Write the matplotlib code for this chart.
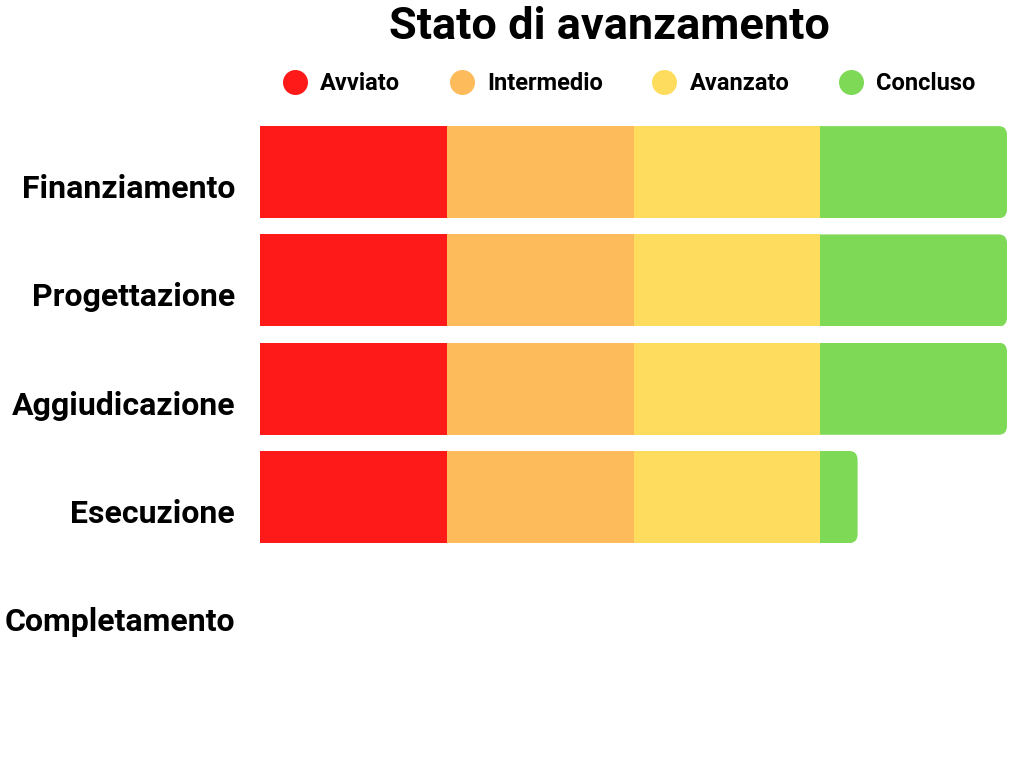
import matplotlib
matplotlib.use("Agg")
import matplotlib.pyplot as plt
from matplotlib.patches import FancyBboxPatch, Rectangle
from matplotlib.lines import Line2D
import matplotlib.transforms as mtransforms
import numpy as np

plt.rcParams['font.family'] = ['Roboto', 'DejaVu Sans']

categories = ["Finanziamento", "Progettazione", "Aggiudicazione", "Esecuzione", "Completamento"]
series_names = ["Avviato", "Intermedio", "Avanzato", "Concluso"]
avviato = [25, 25, 25, 25, 0]
intermedio = [25, 25, 25, 25, 0]
avanzato = [25, 25, 25, 25, 0]
concluso = [25, 25, 25, 5, 0]
colors = ["#FF1A1A", "#FDBB5C", "#FEDD5E", "#7ED957"]

series = [avviato, intermedio, avanzato, concluso]

fig = plt.figure(figsize=(10.24, 7.68), dpi=100)
ax = fig.add_axes([260/1024, 1 - 659.5/768, (1007 - 260)/1024, (659.5 - 118)/768])

y = np.arange(len(categories))
height = 0.85
left = np.zeros(len(categories))
for si, (name, vals, c) in enumerate(zip(series_names, series, colors)):
    vals = np.array(vals, dtype=float)
    if si < len(series) - 1:
        ax.barh(y, vals, left=left, height=height, color=c, edgecolor='none', zorder=2)
    else:
        # last segment: rounded right end, square left end (clipped)
        for yi, l, v in zip(y, left, vals):
            if v <= 0:
                continue
            rx = 1.1
            ext = 3.0
            box = FancyBboxPatch((l - ext, yi - height / 2), v + ext, height,
                                 boxstyle=f"round,pad=0,rounding_size={rx}",
                                 mutation_aspect=0.075,
                                 facecolor=c, edgecolor='none', zorder=3)
            ax.add_patch(box)
            clip = Rectangle((l, yi - height / 2), v, height, transform=ax.transData)
            box.set_clip_path(clip)
    left = left + vals

ax.set_xlim(0, 100)
ax.set_ylim(len(categories) - 0.5, -0.5)
ax.set_yticks(y)
ax.set_yticklabels(categories, fontsize=23, fontweight='bold')
ax.tick_params(axis='y', length=0, pad=18)
ax.set_xticks([])
for s in ax.spines.values():
    s.set_visible(False)
offset = mtransforms.ScaledTranslation(0, -14/100, fig.dpi_scale_trans)
for lbl in ax.get_yticklabels():
    lbl.set_transform(lbl.get_transform() + offset)

fig.text(609/1024, 1 - 27/768, "Stato di avanzamento", ha='center', va='center',
         fontsize=32.5, fontweight='bold')

handles = [Line2D([], [], marker='o', linestyle='none', markersize=18,
                  markerfacecolor=c, markeredgecolor='none') for c in colors]
leg = fig.legend(handles, series_names, loc='center', ncol=4,
                 bbox_to_anchor=(628/1024, 1 - 84/768), frameon=False,
                 prop={'size': 17, 'weight': 'bold'}, handletextpad=0.47,
                 columnspacing=2.0, handlelength=1.2)

fig.savefig("out.png", dpi=100)
